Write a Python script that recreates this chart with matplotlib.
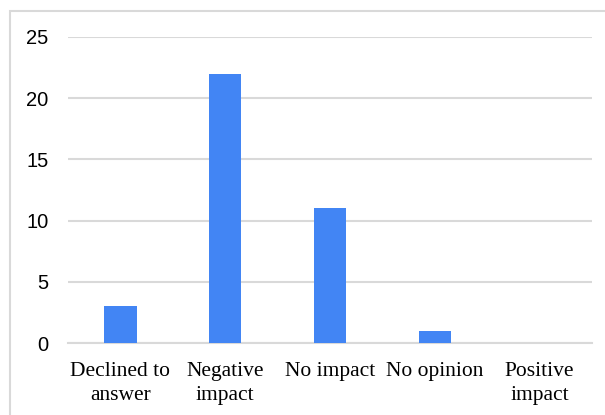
import matplotlib
matplotlib.use("Agg")
import matplotlib.pyplot as plt
from matplotlib.patches import Rectangle

categories = ["Declined to\nanswer", "Negative\nimpact", "No impact", "No opinion", "Positive\nimpact"]
values = [3, 22, 11, 1, 0]
yticks = [0, 5, 10, 15, 20, 25]

W, H = 605, 415
fig = plt.figure(figsize=(W / 100, H / 100), dpi=100)
ax = fig.add_axes([68 / W, 1 - 343 / H, (592 - 68) / W, (343 - 37) / H])

x = list(range(len(categories)))
ax.bar(x, values, width=0.31, color="#4285F4", zorder=3)
ax.set_xlim(-0.5, len(categories) - 0.5)
ax.set_ylim(0, 25)
ax.set_yticks(yticks)
ax.set_yticklabels([str(t) for t in yticks], family="Liberation Sans", fontsize=14.5, color="#000000")
ax.set_xticks(x)
ax.set_xticklabels(categories, family="Liberation Serif", fontsize=15.5, color="#000000", linespacing=1.35)
ax.tick_params(axis="both", length=0)
ax.tick_params(axis="y", pad=14)
ax.tick_params(axis="x", pad=14)
ax.grid(axis="y", color="#d9d9d9", linewidth=1.5, zorder=0)
for s in ["top", "right", "left"]:
    ax.spines[s].set_visible(False)
ax.spines["bottom"].set_color("#d9d9d9")
ax.spines["bottom"].set_linewidth(1.5)

fig.patches.append(Rectangle((9.5 / W, -0.1), 1.2, 1 - 11.5 / H + 0.1, transform=fig.transFigure,
                             fill=False, edgecolor="#d9d9d9", linewidth=1.5))

fig.savefig("out.png", dpi=100)
